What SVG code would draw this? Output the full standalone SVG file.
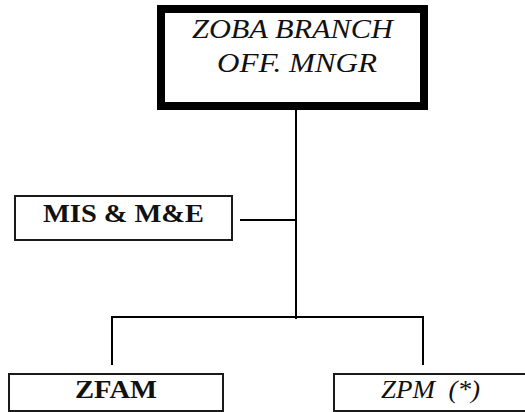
<svg xmlns="http://www.w3.org/2000/svg" width="525" height="412" viewBox="0 0 525 412">
<style>
.box{fill:#fff;stroke:#1a1a1a;stroke-width:2}
.thick{fill:#fff;stroke:#000;stroke-width:8}
.ln{stroke:#000;stroke-width:2;fill:none}
.t{fill:#111;text-anchor:middle}
.it{font-style:italic;font-size:27px}
.bd{font-weight:bold;font-size:25px}
</style>
<rect width="525" height="412" fill="#fff"/>
<g id="connectors">
<line class="ln" x1="296" y1="110" x2="296" y2="319"/>
<line class="ln" x1="240" y1="220" x2="296" y2="220"/>
<polyline class="ln" points="112,365 112,317 423,317 423,365"/>
</g>
<g id="node-zoba" font-family="Liberation Serif, DejaVu Serif, Times New Roman, serif">
<rect class="thick" x="161" y="9" width="263" height="97"/>
<text class="t it" x="292.5" y="38" textLength="201" lengthAdjust="spacingAndGlyphs">ZOBA BRANCH</text>
<text class="t it" x="297" y="72" textLength="160" lengthAdjust="spacingAndGlyphs">OFF. MNGR</text>
</g>
<g id="node-mis" font-family="Liberation Serif, DejaVu Serif, Times New Roman, serif">
<rect class="box" x="15" y="196" width="217" height="44"/>
<text class="t bd" x="123.5" y="222" textLength="161" lengthAdjust="spacingAndGlyphs">MIS &amp; M&amp;E</text>
</g>
<g id="node-zfam" font-family="Liberation Serif, DejaVu Serif, Times New Roman, serif">
<rect class="box" x="9" y="374" width="214" height="37"/>
<text class="t bd" x="116" y="398" textLength="82" lengthAdjust="spacingAndGlyphs">ZFAM</text>
</g>
<g id="node-zpm" font-family="Liberation Serif, DejaVu Serif, Times New Roman, serif">
<rect class="box" x="334" y="374" width="200" height="37"/>
<text class="t it" x="430.5" y="398" style="font-size:25px;white-space:pre" xml:space="preserve" textLength="99" lengthAdjust="spacingAndGlyphs">ZPM  (*)</text>
</g>
</svg>
